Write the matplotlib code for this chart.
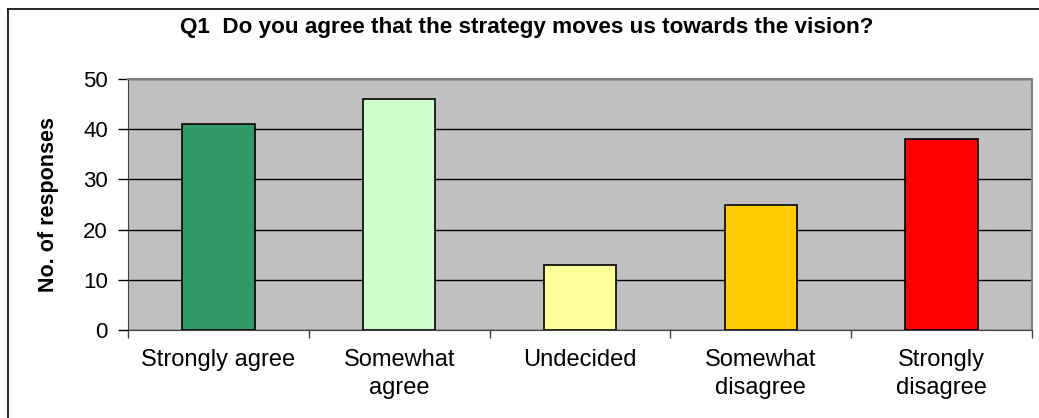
import matplotlib.pyplot as plt
import numpy as np
from matplotlib.lines import Line2D

plt.rcParams["font.family"] = ["Liberation Sans", "DejaVu Sans"]

categories = ["Strongly agree", "Somewhat\nagree", "Undecided", "Somewhat\ndisagree", "Strongly\ndisagree"]
responses = [41, 46, 13, 25, 38]
bar_colors = ["#339966", "#CCFFCC", "#FFFF99", "#FFCC00", "#FF0000"]
y_ticks = [0, 10, 20, 30, 40, 50]

fig = plt.figure(figsize=(10.39, 4.18), dpi=100)
ax = fig.add_axes([128 / 1039, 1 - 330 / 418, (1032 - 128) / 1039, (330 - 79) / 418])
ax.set_facecolor("#C0C0C0")

x = np.arange(len(categories))
ax.bar(x, responses, width=0.4, color=bar_colors, edgecolor="black", linewidth=1.2, zorder=3)

ax.set_xlim(-0.5, len(categories) - 0.5)
ax.set_ylim(0, 50)
ax.set_yticks(y_ticks)
ax.yaxis.grid(True, color="black", linewidth=1, zorder=1)
ax.set_axisbelow(True)

# category ticks sit between the bars
ax.set_xticks(np.arange(len(categories) + 1) - 0.5)
ax.set_xticklabels([])
ax.set_xticks(x, minor=True)
ax.set_xticklabels(categories, minor=True, fontsize=17, linespacing=1.3)
ax.tick_params(axis="x", which="minor", length=0, pad=14)
ax.tick_params(axis="x", which="major", length=6, width=1, color="#404040", direction="out")
ax.tick_params(axis="y", length=7, width=1, color="black", labelsize=16, pad=7.5)

for side in ["top", "right"]:
    ax.spines[side].set_color("#808080")
    ax.spines[side].set_linewidth(1.5)
ax.spines["left"].set_color("#404040")
ax.spines["bottom"].set_color("#404040")

ax.set_ylabel("No. of responses", fontsize=15.5, fontweight="bold", labelpad=17)

fig.text(527 / 1039, 1 - 28 / 418, "Q1  Do you agree that the strategy moves us towards the vision?",
         ha="center", va="center", fontsize=16.2, fontweight="bold")

# outer chart frame (top and left edges)
fig.add_artist(Line2D([8 / 1039, 1], [1 - 9 / 418, 1 - 9 / 418], color="black", linewidth=1.2,
                      transform=fig.transFigure))
fig.add_artist(Line2D([8 / 1039, 8 / 1039], [0, 1 - 9 / 418], color="black", linewidth=1.2,
                      transform=fig.transFigure))

fig.savefig("out.png", dpi=100, facecolor="white")
